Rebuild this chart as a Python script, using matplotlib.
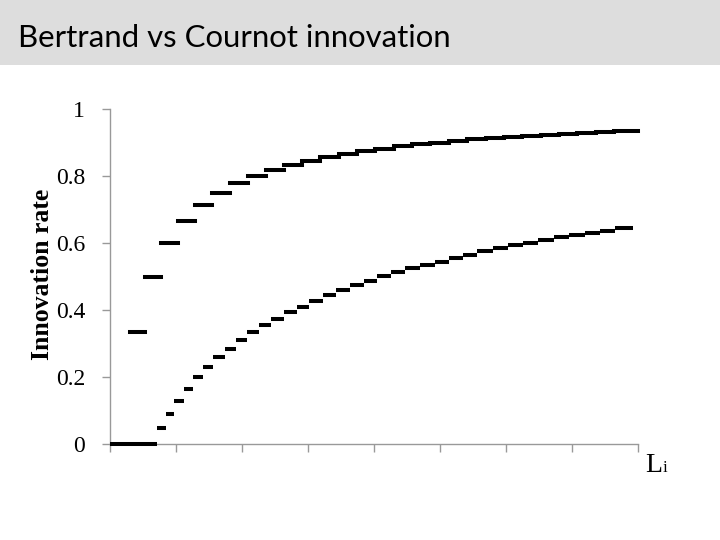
import matplotlib
matplotlib.use("Agg")
import matplotlib.pyplot as plt
from matplotlib.patches import Rectangle

# ---- data ----
title = "Bertrand vs Cournot innovation"
y_label = "Innovation rate"
x_label = "L"
x_label_sub = "i"
y_ticks = [0, 0.2, 0.4, 0.6, 0.8, 1.0]
y_tick_labels = ["0", "0.2", "0.4", "0.6", "0.8", "1"]
x_ticks = [0, 1, 2, 3, 4, 5, 6, 7, 8]

# Upper series (Bertrand): step segments, edges on the L axis and level of each step
upper_edges = [0.303, 0.530, 0.773, 1.030, 1.288, 1.545, 1.818, 2.091, 2.364, 2.636,
               2.909, 3.182, 3.470, 3.742, 4.015, 4.303, 4.576, 4.848, 5.136, 5.409,
               5.697, 5.970, 6.242, 6.530, 6.803, 7.076, 7.364, 7.636, 8.0]
upper_values = [0.333, 0.5, 0.6, 0.667, 0.714, 0.75, 0.778, 0.8, 0.818, 0.833,
                0.846, 0.857, 0.867, 0.875, 0.882, 0.889, 0.895, 0.9, 0.905, 0.909,
                0.913, 0.917, 0.92, 0.923, 0.926, 0.929, 0.931, 0.935]

# Lower series (Cournot)
lower_edges = [0.000, 0.712, 0.841, 0.977, 1.114, 1.258, 1.409, 1.568, 1.735, 1.902,
               2.076, 2.250, 2.432, 2.629, 2.826, 3.015, 3.220, 3.424, 3.629, 3.841,
               4.053, 4.258, 4.470, 4.697, 4.917, 5.136, 5.348, 5.568, 5.803, 6.030,
               6.265, 6.492, 6.727, 6.962, 7.197, 7.424, 7.652, 7.924]
lower_values = [0.0, 0.047, 0.09, 0.128, 0.164, 0.199, 0.230, 0.259, 0.285, 0.310,
                0.334, 0.355, 0.374, 0.393, 0.410, 0.428, 0.445, 0.460, 0.474, 0.488,
                0.501, 0.513, 0.525, 0.534, 0.544, 0.556, 0.565, 0.575, 0.584, 0.593,
                0.600, 0.609, 0.617, 0.623, 0.631, 0.637, 0.645]

W, H, DPI = 720, 540, 100
fig = plt.figure(figsize=(W / DPI, H / DPI), dpi=DPI)
fig.patch.set_facecolor("white")

# title band
band_h = 65 / H
fig.patches.append(Rectangle((0, 1 - band_h), 1, band_h, transform=fig.transFigure,
                             facecolor="#dddddd", edgecolor="none", zorder=0))
fig.text(18 / W, 1 - 47 / H, title, fontsize=22.4, family=["Lato", "DejaVu Sans"],
         color="black", ha="left", va="baseline")

left, right, bottom, top = 110 / W, 638 / W, 1 - 444 / H, 1 - 109 / H
ax = fig.add_axes([left, bottom, right - left, top - bottom])
ax.set_xlim(0, 8)
ax.set_ylim(0, 1)

lw = 2.9
for i, v in enumerate(upper_values):
    ax.plot([upper_edges[i], upper_edges[i + 1]], [v, v], color="black", lw=lw,
            solid_capstyle="projecting", clip_on=False)
for i, v in enumerate(lower_values):
    ax.plot([lower_edges[i], lower_edges[i + 1]], [v, v], color="black", lw=lw,
            solid_capstyle="butt", clip_on=False, zorder=3)

for s in ["top", "right"]:
    ax.spines[s].set_visible(False)
for s in ["left", "bottom"]:
    ax.spines[s].set_color("#999999")
    ax.spines[s].set_linewidth(1.0)

ax.set_yticks(y_ticks)
ax.set_yticklabels(y_tick_labels, family=["Liberation Serif"], fontsize=17)
ax.set_xticks(x_ticks)
ax.set_xticklabels([])
ax.tick_params(axis="y", direction="out", length=6, width=1.0, color="#999999", pad=12)
ax.tick_params(axis="x", direction="out", length=6, width=1.0, color="#999999")

fig.text(43 / W, 1 - 274 / H, y_label, rotation=90, fontsize=18.5, fontweight="bold",
         family=["Liberation Serif"], ha="center", va="center")
fig.text(645 / W, 1 - 472 / H, x_label, fontsize=20, family=["Liberation Serif"],
         ha="left", va="baseline")
fig.text(663 / W, 1 - 472 / H, x_label_sub, fontsize=12, family=["Liberation Serif"],
         ha="left", va="baseline")

fig.savefig("out.png", dpi=DPI)
